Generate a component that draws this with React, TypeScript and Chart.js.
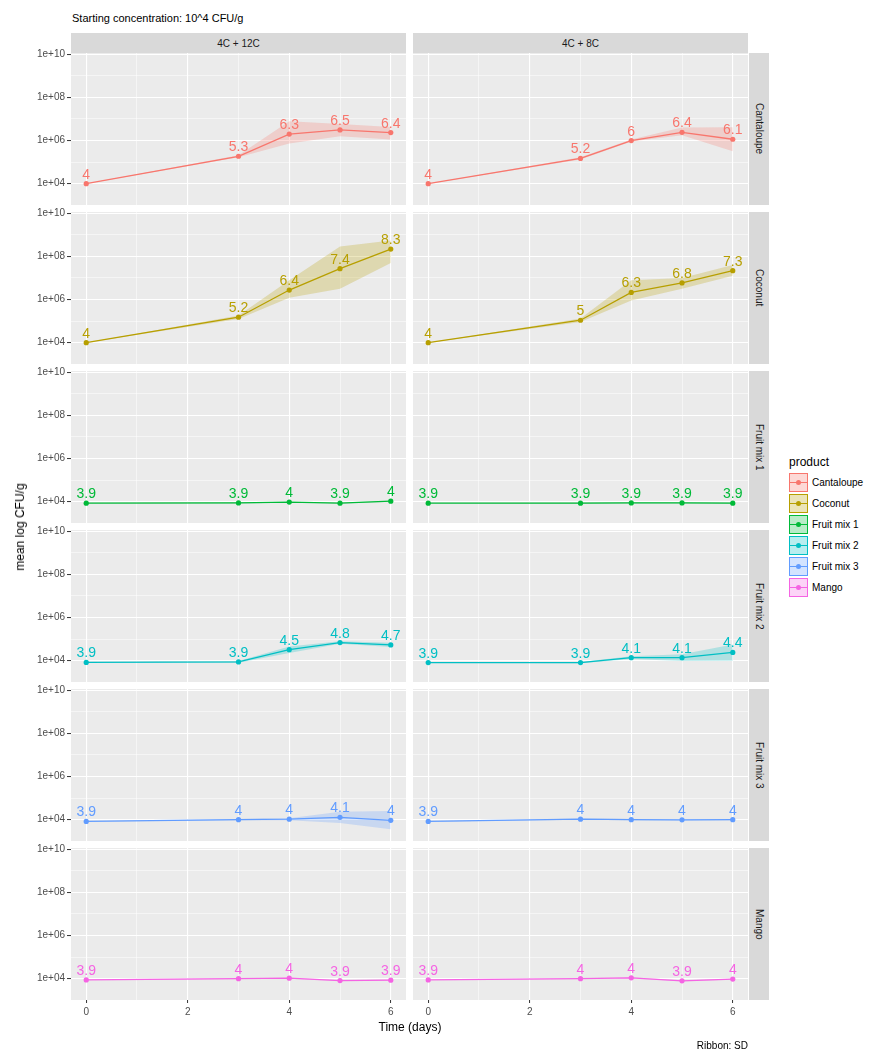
import React, { useEffect, useRef } from 'react';
import { Chart, registerables } from 'chart.js';

Chart.register(...registerables);

// ---------------- data ----------------
const DAYS = [0, 3, 4, 5, 6];
const CONDITIONS = ['4C + 12C', '4C + 8C'];
const PRODUCTS = ['Cantaloupe', 'Coconut', 'Fruit mix 1', 'Fruit mix 2', 'Fruit mix 3', 'Mango'];
const COLORS = ['#F8766D', '#B79F00', '#00BA38', '#00BFC4', '#619CFF', '#F564E3'];

// mean log10 CFU/g, one row per product (order as PRODUCTS), one value per day
const MEAN_12C = [
  [4.0, 5.27, 6.3, 6.49, 6.37],
  [4.0, 5.18, 6.44, 7.43, 8.34],
  [3.93, 3.94, 3.98, 3.93, 4.02],
  [3.92, 3.94, 4.51, 4.84, 4.73],
  [3.92, 4.0, 4.02, 4.11, 3.97],
  [3.94, 4.0, 4.02, 3.91, 3.93],
];
const LOWER_12C = [
  [4.0, 5.22, 5.86, 6.2, 6.05],
  [4.0, 5.1, 6.08, 6.5, 7.7],
  [3.93, 3.92, 3.96, 3.91, 4.0],
  [3.92, 3.9, 4.36, 4.78, 4.63],
  [3.92, 3.97, 3.97, 3.85, 3.55],
  [3.94, 3.98, 4.0, 3.89, 3.91],
];
const UPPER_12C = [
  [4.0, 5.32, 6.9, 6.77, 6.63],
  [4.0, 5.26, 6.9, 8.46, 8.74],
  [3.93, 3.96, 4.0, 3.95, 4.04],
  [3.92, 3.98, 4.66, 4.9, 4.83],
  [3.92, 4.03, 4.07, 4.37, 4.4],
  [3.94, 4.02, 4.04, 3.93, 3.95],
];

const MEAN_8C = [
  [4.0, 5.17, 6.0, 6.38, 6.06],
  [4.0, 5.04, 6.33, 6.77, 7.34],
  [3.93, 3.93, 3.94, 3.94, 3.93],
  [3.91, 3.91, 4.14, 4.14, 4.38],
  [3.92, 4.02, 4.0, 3.99, 4.0],
  [3.94, 4.0, 4.04, 3.9, 3.98],
];
const LOWER_8C = [
  [4.0, 5.12, 5.95, 6.25, 5.5],
  [4.0, 4.96, 5.95, 6.5, 7.1],
  [3.93, 3.91, 3.92, 3.92, 3.91],
  [3.91, 3.88, 4.08, 3.98, 4.0],
  [3.92, 3.99, 3.97, 3.96, 3.97],
  [3.94, 3.98, 4.02, 3.88, 3.96],
];
const UPPER_8C = [
  [4.0, 5.22, 6.05, 6.6, 6.62],
  [4.0, 5.12, 6.9, 7.0, 7.6],
  [3.93, 3.95, 3.96, 3.96, 3.95],
  [3.91, 3.94, 4.2, 4.3, 4.75],
  [3.92, 4.05, 4.03, 4.02, 4.03],
  [3.94, 4.02, 4.06, 3.92, 4.0],
];

const MEANS = [MEAN_12C, MEAN_8C];
const LOWERS = [LOWER_12C, LOWER_8C];
const UPPERS = [UPPER_12C, UPPER_8C];

const Y_TICK_EXPONENTS = [4, 5, 6, 7, 8, 9, 10];
const X_TICKS = [0, 1, 2, 3, 4, 5, 6];

// ---------------- layout ----------------
const FONT = '"Liberation Sans", Arial, Helvetica, sans-serif';
const PANEL_LEFT = [71, 413];
const PANEL_W = 335;
const PANEL_TOP0 = 53;
const ROW_STEP = 159;
const PANEL_H = 152;
const PAD_TOP = 8;

function hexToRgba(hex: string, a: number) {
  const n = parseInt(hex.slice(1), 16);
  return `rgba(${(n >> 16) & 255},${(n >> 8) & 255},${n & 255},${a})`;
}

function fmtLabel(v: number) {
  return String(Math.round(v * 10) / 10);
}

const bgPlugin = {
  id: 'panelBg',
  beforeDraw(chart: any) {
    const { ctx, chartArea: a } = chart;
    ctx.save();
    ctx.fillStyle = '#EBEBEB';
    ctx.fillRect(a.left, a.top, a.right - a.left, a.bottom - a.top);
    ctx.restore();
  },
};

function Panel({ col, row }: { col: number; row: number }) {
  const ref = useRef<HTMLCanvasElement>(null);
  const isLeft = col === 0;
  const isBottom = row === PRODUCTS.length - 1;
  const axisW = isLeft ? PANEL_LEFT[0] : 0;
  const axisH = isBottom ? 24 : 0;
  const width = PANEL_W + axisW;
  const height = PANEL_H + PAD_TOP + axisH;
  const left = isLeft ? 0 : PANEL_LEFT[col];
  const top = PANEL_TOP0 + row * ROW_STEP - PAD_TOP;

  useEffect(() => {
    const mean = MEANS[col][row];
    const lower = LOWERS[col][row];
    const upper = UPPERS[col][row];
    const color = COLORS[row];

    const labelPlugin = {
      id: 'pointLabels',
      afterDatasetsDraw(chart: any) {
        const meta = chart.getDatasetMeta(0);
        const ctx = chart.ctx;
        ctx.save();
        ctx.font = `14px ${FONT}`;
        ctx.fillStyle = color;
        ctx.textAlign = 'center';
        ctx.textBaseline = 'alphabetic';
        meta.data.forEach((pt: any, i: number) => {
          ctx.fillText(fmtLabel(mean[i]), pt.x, pt.y - 5);
        });
        ctx.restore();
      },
    };

    const chart = new Chart(ref.current as HTMLCanvasElement, {
      type: 'line',
      data: {
        datasets: [
          {
            data: DAYS.map((d, i) => ({ x: d, y: 10 ** mean[i] })),
            borderColor: color,
            backgroundColor: color,
            borderWidth: 1.3,
            pointRadius: 2.6,
            pointBorderWidth: 0,
            pointBackgroundColor: color,
            fill: false,
            tension: 0,
          },
          {
            data: DAYS.map((d, i) => ({ x: d, y: 10 ** lower[i] })),
            borderWidth: 0,
            borderColor: 'rgba(0,0,0,0)',
            pointRadius: 0,
            fill: false,
            tension: 0,
          },
          {
            data: DAYS.map((d, i) => ({ x: d, y: 10 ** upper[i] })),
            borderWidth: 0,
            borderColor: 'rgba(0,0,0,0)',
            pointRadius: 0,
            fill: '-1',
            backgroundColor: hexToRgba(color, 0.25),
            tension: 0,
          },
        ],
      },
      options: {
        responsive: false,
        animation: false,
        events: [],
        layout: { padding: { top: PAD_TOP, left: 0, right: 0, bottom: 0 }, autoPadding: false } as any,
        plugins: { legend: { display: false }, tooltip: { enabled: false } },
        scales: {
          x: {
            type: 'linear',
            min: -0.3,
            max: 6.3,
            afterBuildTicks: (s: any) => {
              s.ticks = X_TICKS.map((v) => ({ value: v }));
            },
            afterFit: (s: any) => {
              s.height = axisH;
              s.paddingLeft = 0;
              s.paddingRight = 0;
              s.paddingTop = 0;
              s.paddingBottom = 0;
            },
            border: { display: false },
            grid: {
              color: '#FFFFFF',
              lineWidth: (c: any) => (c.tick && c.tick.value % 2 === 0 ? 1.1 : 0.5),
              drawTicks: isBottom,
              tickLength: 3,
              tickWidth: 1,
              tickColor: (c: any) => (c.tick && c.tick.value % 2 === 0 ? '#333333' : 'rgba(0,0,0,0)'),
            },
            ticks: {
              display: isBottom,
              autoSkip: false,
              maxRotation: 0,
              padding: 3,
              color: '#4D4D4D',
              font: { size: 10, family: FONT },
              callback: (v: any) => (Number(v) % 2 === 0 ? String(v) : ''),
            },
          },
          y: {
            type: 'logarithmic',
            min: 10 ** 3.01,
            max: 10 ** 10.06,
            afterBuildTicks: (s: any) => {
              s.ticks = Y_TICK_EXPONENTS.map((e) => ({ value: 10 ** e }));
            },
            afterFit: (s: any) => {
              s.width = axisW;
              s.paddingLeft = 0;
              s.paddingRight = 0;
              s.paddingTop = 0;
              s.paddingBottom = 0;
            },
            border: { display: false },
            grid: {
              color: '#FFFFFF',
              lineWidth: (c: any) =>
                c.tick && Math.round(Math.log10(c.tick.value)) % 2 === 0 ? 1.1 : 0.5,
              drawTicks: isLeft,
              tickLength: 4,
              tickWidth: 1,
              tickColor: (c: any) =>
                c.tick && Math.round(Math.log10(c.tick.value)) % 2 === 0 ? '#333333' : 'rgba(0,0,0,0)',
            },
            ticks: {
              display: isLeft,
              autoSkip: false,
              padding: 2,
              color: '#4D4D4D',
              font: { size: 10, family: FONT },
              callback: (v: any) => {
                const e = Math.round(Math.log10(Number(v)));
                return e % 2 === 0 ? `1e+${String(e).padStart(2, '0')}` : '';
              },
            },
          },
        },
      } as any,
      plugins: [bgPlugin, labelPlugin],
    });
    return () => chart.destroy();
  }, []);

  return (
    <canvas
      ref={ref}
      width={width}
      height={height}
      style={{ position: 'absolute', left, top, width, height }}
    />
  );
}

function LegendKey({ color }: { color: string }) {
  return (
    <div
      style={{
        position: 'relative',
        width: 17,
        height: 17,
        background: hexToRgba(color, 0.28),
        border: `1px solid ${color}`,
      }}
    >
      <div
        style={{
          position: 'absolute',
          left: 0,
          right: 0,
          top: 8,
          height: 1.3,
          background: color,
        }}
      />
      <div
        style={{
          position: 'absolute',
          left: 6,
          top: 6,
          width: 5,
          height: 5,
          borderRadius: '50%',
          background: color,
        }}
      />
    </div>
  );
}

export default function App() {
  return (
    <div
      style={{
        position: 'fixed',
        left: 0,
        top: 0,
        width: 869,
        height: 1051,
        background: '#FFFFFF',
        fontFamily: FONT,
        overflow: 'hidden',
      }}
    >
      <div style={{ position: 'absolute', left: 72, top: 12, fontSize: 11, color: '#000', whiteSpace: 'nowrap' }}>
        Starting concentration: 10^4 CFU/g
      </div>

      {CONDITIONS.map((c, ci) => (
        <div
          key={c}
          style={{
            position: 'absolute',
            left: PANEL_LEFT[ci],
            top: 33,
            width: PANEL_W,
            height: 20,
            background: '#D9D9D9',
            color: '#1A1A1A',
            fontSize: 10,
            display: 'flex',
            alignItems: 'center',
            justifyContent: 'center',
          }}
        >
          {c}
        </div>
      ))}

      {PRODUCTS.map((p, ri) => (
        <div
          key={p}
          style={{
            position: 'absolute',
            left: 749,
            top: PANEL_TOP0 + ri * ROW_STEP,
            width: 20,
            height: PANEL_H,
            background: '#D9D9D9',
            color: '#1A1A1A',
            fontSize: 10,
            display: 'flex',
            alignItems: 'center',
            justifyContent: 'center',
          }}
        >
          <span style={{ writingMode: 'vertical-rl', whiteSpace: 'nowrap' }}>{p}</span>
        </div>
      ))}

      {PRODUCTS.map((p, ri) =>
        CONDITIONS.map((c, ci) => <Panel key={`${p}-${c}`} col={ci} row={ri} />)
      )}

      <div
        style={{
          position: 'absolute',
          left: 20,
          top: 527,
          transform: 'translate(-50%, -50%) rotate(-90deg)',
          fontSize: 12,
          whiteSpace: 'nowrap',
          color: '#000',
        }}
      >
        mean log CFU/g
      </div>

      <div
        style={{
          position: 'absolute',
          left: 410,
          top: 1027,
          transform: 'translate(-50%, -50%)',
          fontSize: 12,
          whiteSpace: 'nowrap',
          color: '#000',
        }}
      >
        Time (days)
      </div>

      <div
        style={{
          position: 'absolute',
          right: 869 - 748,
          top: 1040,
          fontSize: 10,
          whiteSpace: 'nowrap',
          color: '#000',
        }}
      >
        Ribbon: SD
      </div>

      <div style={{ position: 'absolute', left: 789, top: 455 }}>
        <div style={{ fontSize: 12, color: '#000', marginBottom: 3 }}>product</div>
        {PRODUCTS.map((p, i) => (
          <div key={p} style={{ display: 'flex', alignItems: 'center', height: 21 }}>
            <LegendKey color={COLORS[i]} />
            <span style={{ fontSize: 10, marginLeft: 4, color: '#000', whiteSpace: 'nowrap' }}>{p}</span>
          </div>
        ))}
      </div>
    </div>
  );
}
